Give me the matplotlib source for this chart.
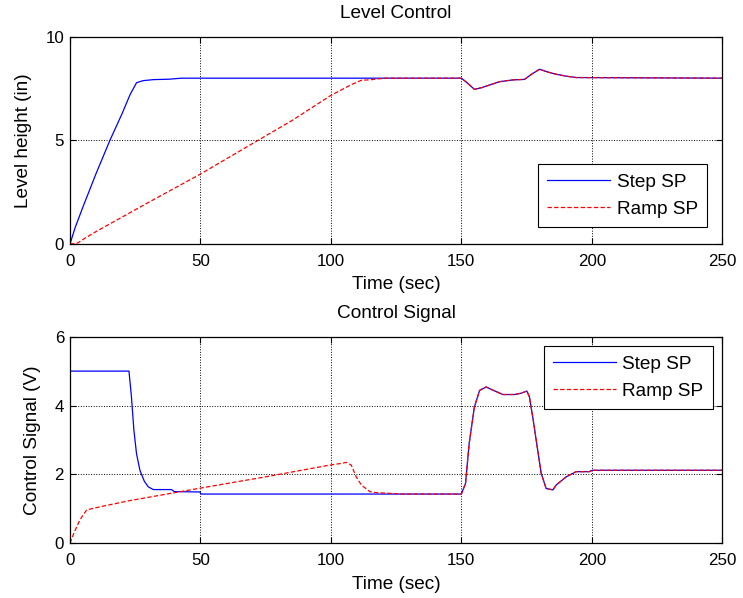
import matplotlib
matplotlib.use("Agg")
import matplotlib.pyplot as plt

plt.rcParams['font.family'] = ['Liberation Sans', 'DejaVu Sans']
plt.rcParams['font.size'] = 13.7

# ===== DATA =====
# Level Control - Step SP
t_lvl_step = [0, 2, 5, 10, 15.3, 20, 23, 25.5, 28, 32, 38, 42.7, 150,
              152, 155, 158, 164.6, 170, 174.2, 177, 180, 183, 186.3, 190, 194, 250]
h_lvl_step = [0, 0.8, 1.8, 3.4, 5.0, 6.3, 7.2, 7.78, 7.88, 7.93, 7.95, 8.0, 8.0,
              7.8, 7.46, 7.55, 7.83, 7.92, 7.94, 8.2, 8.43, 8.3, 8.19, 8.1, 8.03, 8.0]

# Level Control - Ramp SP
t_lvl_ramp = [0, 3, 6, 10, 20, 30, 49.8, 70, 85, 100, 108, 111.7, 115, 120.6, 150,
              152, 155, 158, 164.6, 170, 174.2, 177, 180, 183, 186.3, 190, 194, 250]
h_lvl_ramp = [0, 0.05, 0.3, 0.6, 1.3, 2.0, 3.36, 4.85, 5.95, 7.17, 7.7, 7.9, 7.92, 8.0, 8.0,
              7.8, 7.46, 7.55, 7.83, 7.92, 7.94, 8.2, 8.43, 8.3, 8.19, 8.1, 8.03, 8.0]

# Control Signal - Step SP
t_ctl_step = [0, 22.6, 23.5, 24.5, 25.5, 26.8, 28.5, 30, 31.9, 38.9, 40, 49.8, 50.2, 150,
              151.6, 153, 155, 157, 159.5, 162, 165.9, 170.4, 173, 175.1, 176.1, 177.5,
              178.7, 180.6, 182.5, 185.1, 186.3, 190.2, 194, 199, 200.3, 250]
u_ctl_step = [5.0, 5.0, 4.3, 3.28, 2.6, 2.12, 1.8, 1.64, 1.56, 1.56, 1.5, 1.49, 1.43, 1.43,
              1.74, 2.9, 3.96, 4.44, 4.54, 4.45, 4.32, 4.32, 4.36, 4.42, 4.25, 3.6,
              2.99, 2.03, 1.59, 1.55, 1.69, 1.93, 2.08, 2.08, 2.12, 2.12]

# Control Signal - Ramp SP
t_ctl_ramp = [0, 1.5, 3.8, 6.4, 11.5, 23, 49.8, 75, 99.5, 104, 105.9, 107.8, 109.7,
              111.7, 114.9, 117.5, 127.6, 150,
              151.6, 153, 155, 157, 159.5, 162, 165.9, 170.4, 173, 175.1, 176.1, 177.5,
              178.7, 180.6, 182.5, 185.1, 186.3, 190.2, 194, 199, 200.3, 250]
u_ctl_ramp = [0, 0.3, 0.68, 0.97, 1.06, 1.24, 1.60, 1.93, 2.27, 2.32, 2.35, 2.27, 1.93,
              1.69, 1.50, 1.47, 1.43, 1.43,
              1.74, 2.9, 3.96, 4.44, 4.54, 4.45, 4.32, 4.32, 4.36, 4.42, 4.25, 3.6,
              2.99, 2.03, 1.59, 1.55, 1.69, 1.93, 2.08, 2.08, 2.12, 2.12]

x_ticks = [0, 50, 100, 150, 200, 250]
lvl_ticks = [0, 5, 10]
ctl_ticks = [0, 2, 4, 6]

# ===== FIGURE =====
fig = plt.figure(figsize=(7.43, 5.98), dpi=100)
ax1 = fig.add_axes([0.0942, 0.5920, 0.8779, 0.3466])
ax2 = fig.add_axes([0.0942, 0.0915, 0.8779, 0.3455])


def style(ax, yticks):
    ax.set_xlim(0, 250)
    ax.set_ylim(yticks[0], yticks[-1])
    ax.set_xticks(x_ticks)
    ax.set_yticks(yticks)
    ax.grid(True, color='k', linestyle=':', linewidth=0.7)
    ax.tick_params(direction='in', length=4, width=0.8, top=True, right=True,
                   labelsize=12.2)
    ax.tick_params(axis='x', pad=7)
    ax.tick_params(axis='y', pad=4.3)
    for s in ax.spines.values():
        s.set_linewidth(0.9)
    ax.set_xlabel("Time (sec)", labelpad=5.5)


leg_kw = dict(fancybox=False, edgecolor='k', framealpha=1, borderaxespad=0,
              handlelength=3.3, handletextpad=0.35, labelspacing=0.5,
              borderpad=0.5)

# Level Control
ax1.plot(t_lvl_step, h_lvl_step, color='b', linewidth=0.9, label='Step SP')
ax1.plot(t_lvl_ramp, h_lvl_ramp, color='r', linestyle='--', dashes=(3.5, 1.8),
         linewidth=0.9, label='Ramp SP')
style(ax1, lvl_ticks)
ax1.set_ylabel("Level height (in)", labelpad=9.5)
ax1.set_title("Level Control", fontsize=13.7, pad=13.5)
lg1 = ax1.legend(loc='lower right', bbox_to_anchor=(0.977, 0.081), **leg_kw)
lg1.get_frame().set_linewidth(0.8)

# Control Signal
ax2.plot(t_ctl_step, u_ctl_step, color='b', linewidth=0.9, label='Step SP')
ax2.plot(t_ctl_ramp, u_ctl_ramp, color='r', linestyle='--', dashes=(3.5, 1.8),
         linewidth=0.9, label='Ramp SP')
style(ax2, ctl_ticks)
ax2.set_ylabel("Control Signal (V)", labelpad=9.5)
ax2.set_title("Control Signal", fontsize=13.7, pad=13.5)
lg2 = ax2.legend(loc='upper right', bbox_to_anchor=(0.986, 0.955), **leg_kw)
lg2.get_frame().set_linewidth(0.8)

fig.savefig("out.png", dpi=100)
